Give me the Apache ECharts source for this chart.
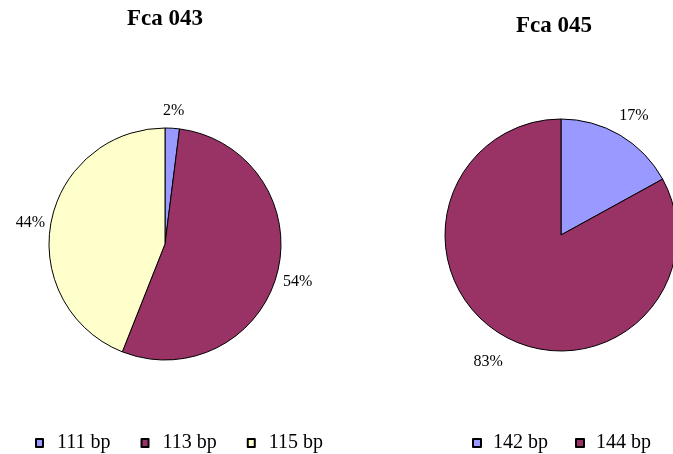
<!DOCTYPE html>
<html>
<head>
<meta charset="utf-8">
<script src="https://cdn.jsdelivr.net/npm/echarts@6/dist/echarts.min.js"></script>
<style>
  html, body { margin: 0; padding: 0; background: #ffffff; }
  #chart { width: 673px; height: 454px; }
</style>
</head>
<body>
<div id="chart"></div>
<script>
// Allele frequencies for two feline microsatellite loci
const titles = ['Fca 043', 'Fca 045'];
const fca043Alleles = ['111 bp', '113 bp', '115 bp'];
const fca043Values = [2, 54, 44];
const fca045Alleles = ['142 bp', '144 bp'];
const fca045Values = [17, 83];

const colors = {
  '111 bp': '#9999FF', '113 bp': '#993366', '115 bp': '#FFFFCC',
  '142 bp': '#9999FF', '144 bp': '#993366'
};

const serif = '"Liberation Serif", "Times New Roman", serif';

function toData(names, values) {
  return names.map((n, i) => ({
    name: n,
    value: values[i],
    itemStyle: { color: colors[n] }
  }));
}

// Centre each percentage label on the point reached along the slice's mid-radius
function centreLabel(params) {
  const r = params.labelRect;
  const onLeft = params.align === 'right';
  return { dx: onLeft ? r.width / 2 : -r.width / 2, dy: 4 };
}

function pieSeries(names, values, center, lineLen) {
  return {
    type: 'pie',
    center: center,
    radius: 116,
    startAngle: 90,
    clockwise: true,
    avoidLabelOverlap: false,
    animation: false,
    data: toData(names, values),
    itemStyle: { borderColor: '#000000', borderWidth: 1 },
    emphasis: { disabled: true },
    label: {
      show: true,
      position: 'outside',
      formatter: '{c}%',
      color: '#000000',
      fontFamily: serif,
      fontSize: 16,
      distanceToLabelLine: 0
    },
    labelLine: { show: false, length: lineLen, length2: 0 },
    labelLayout: centreLabel
  };
}

const legendBase = {
  orient: 'horizontal',
  top: 433,
  padding: 0,
  icon: 'rect',
  itemWidth: 7,
  itemHeight: 8,
  selectedMode: false,
  textStyle: { fontFamily: serif, fontSize: 20, color: '#000000' }
};

const titleStyle = { fontFamily: serif, fontSize: 23, fontWeight: 'bold', color: '#000000' };

const chart = echarts.init(document.getElementById('chart'), null, { renderer: 'canvas' });
chart.setOption({
  backgroundColor: '#ffffff',
  title: [
    { text: titles[0], left: 165, top: 8, padding: 0, textAlign: 'center', textStyle: titleStyle },
    { text: titles[1], left: 554, top: 15, padding: 0, textAlign: 'center', textStyle: titleStyle }
  ],
  legend: [
    Object.assign({}, legendBase, {
      left: 35, itemGap: 30, data: fca043Alleles,
      textStyle: Object.assign({}, legendBase.textStyle, { padding: [0, 0, 0, 9] })
    }),
    Object.assign({}, legendBase, {
      left: 472, itemWidth: 8, itemGap: 27, data: fca045Alleles,
      textStyle: Object.assign({}, legendBase.textStyle, { padding: [0, 0, 0, 7] })
    })
  ],
  series: [
    pieSeries(fca043Alleles, fca043Values, [165, 244], 21),
    pieSeries(fca045Alleles, fca045Values, [561, 235], 27)
  ]
});
</script>
</body>
</html>
